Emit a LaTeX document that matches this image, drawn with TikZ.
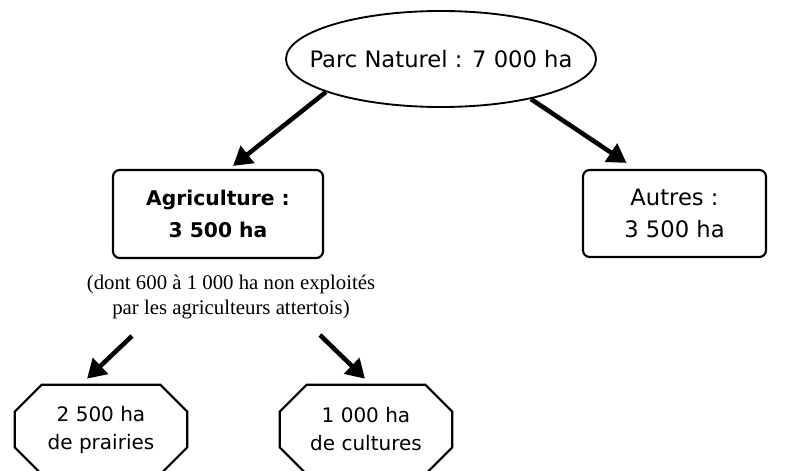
\documentclass[tikz,border=0pt]{standalone}
\usepackage{fontspec}
\setmainfont{Liberation Serif}
\newfontfamily\comic{DejaVu Sans}
\usetikzlibrary{arrows.meta,shapes.geometric}

\tikzset{
	bulle/.style={draw, ellipse, line width=1.4pt, inner xsep=-17pt, inner ysep=0pt, minimum width=232.5pt, minimum height=72pt, font=\comic\fontsize{17}{20}\selectfont},
	cadre/.style={draw, rectangle, rounded corners=5pt, line width=1.6pt, inner sep=0pt, align=center, font=\comic\fontsize{17}{24}\selectfont},
	octo/.style={rectangle, inner sep=0pt, minimum width=129pt, minimum height=66.75pt, align=center, font=\comic\fontsize{15}{21}\selectfont},
	fleche/.style={->, line width=3.4pt}
}

\begin{document}
\begin{tikzpicture}[x=0.75pt, y=-0.75pt, >={Triangle[length=14pt,width=16pt]}]
%		\draw [help lines, step=50] (0,0) grid (797,471);
		\useasboundingbox (0,0) rectangle (797,471);
		\clip (0,0) rectangle (797,471);
		\node [bulle] (parc) at (441,59) {Parc Naturel : 7 000 ha};
		\node [cadre, font=\comic\bfseries\fontsize{15.2}{24}\selectfont, minimum width=157.5pt, minimum height=66pt] (agri) at (218,214) {Agriculture :\\3 500 ha};
		\node [cadre, minimum width=137.25pt, minimum height=65.25pt] (autres) at (674.5,213.5) {Autres :\\3 500 ha};
		\node [align=center, font=\fontsize{15.6}{18.75}\selectfont] (note) at (231,297) {(dont 600 à 1 000 ha non exploités\\par les agriculteurs attertois)};
		\node [octo] (prai) at (101,429.5) {2 500 ha\\de prairies};
		\node [octo] (cult) at (366,429.5) {1 000 ha\\de cultures};
		% octogones autour des deux derniers noeuds
		\foreach \n in {prai,cult}
			\draw [line width=1.6pt] ([xshift=20.25pt]\n.north west) -- ([xshift=-20.25pt]\n.north east) -- ([yshift=-20.25pt]\n.north east) -- ([yshift=20.25pt]\n.south east) -- ([xshift=-20.25pt]\n.south east) -- ([xshift=20.25pt]\n.south west) -- ([yshift=20.25pt]\n.south west) -- ([yshift=-20.25pt]\n.north west) -- cycle;
		\coordinate (g) at (132,336);
		\coordinate (d) at (320,335);
		\draw [fleche] (parc.196) -- ([shift={(15,-3)}]agri.north);
		\draw [fleche] (parc.336) -- ([shift={(-48,-6)}]autres.north);
		\draw [fleche] (g) -- ([shift={(-14,-6)}]prai.north);
		\draw [fleche] (d) -- ([shift={(-1,-6)}]cult.north);
	\end{tikzpicture}
\end{document}
